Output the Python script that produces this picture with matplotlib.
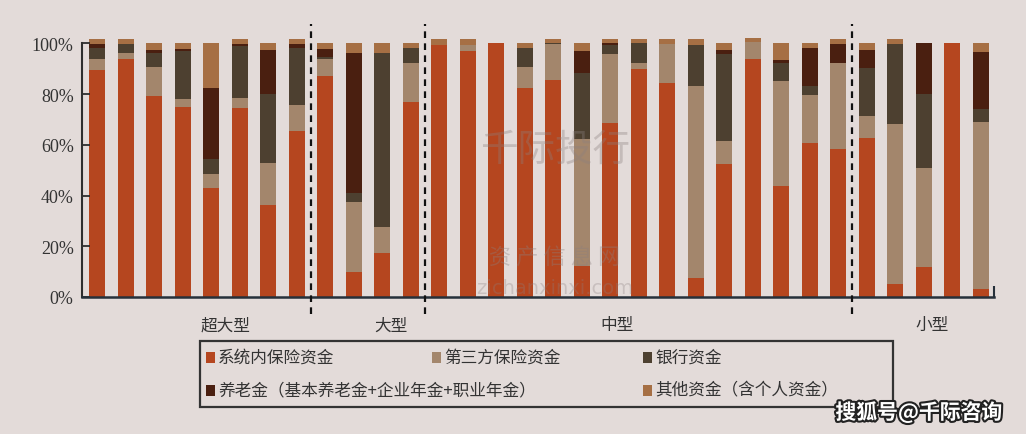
import matplotlib
matplotlib.use("Agg")
import matplotlib.pyplot as plt
import matplotlib.patheffects as pe
from matplotlib.patches import Rectangle
import numpy as np

# ---------------- data ----------------
groups = ["超大型", "大型", "中型", "小型"]
group_sizes = [8, 4, 15, 5]

series_names = ["系统内保险资金", "第三方保险资金", "银行资金",
                "养老金（基本养老金+企业年金+职业年金）", "其他资金（含个人资金）"]

in_system = [89.5, 94.0, 79.2, 74.8, 43.1, 74.5, 36.3, 65.4,
             87.1, 9.9, 17.5, 77.0,
             99.3, 97.0, 100.0, 82.5, 85.5, 12.1, 68.7, 89.7, 84.5, 7.6, 52.6, 94.0, 43.8, 60.8, 58.2,
             62.8, 5.0, 11.8, 100.0, 3.0]
third_party = [4.2, 2.1, 11.6, 3.4, 5.5, 3.8, 16.4, 10.2,
               6.6, 27.6, 10.1, 15.4,
               0.0, 2.2, 0.0, 8.2, 14.1, 50.1, 27.0, 2.7, 15.1, 75.6, 8.9, 6.5, 41.3, 18.7, 34.2,
               8.6, 63.1, 38.9, 0.0, 66.1]
bank = [4.6, 3.5, 5.5, 18.8, 5.9, 20.6, 27.2, 22.4,
        0.7, 3.6, 68.5, 5.9,
        0.0, 0.0, 0.0, 7.6, 0.5, 26.2, 3.5, 7.6, 0.0, 16.0, 34.2, 0.0, 7.3, 3.7, 0.0,
        18.7, 31.5, 29.2, 0.0, 5.1]
pension = [1.3, 0.0, 1.1, 0.9, 28.0, 0.7, 17.5, 1.6,
           3.2, 55.2, 0.0, 0.0,
           0.0, 0.0, 0.0, 0.0, 0.0, 8.6, 0.8, 0.0, 0.0, 0.0, 1.7, 0.0, 1.0, 15.1, 7.2,
           7.1, 0.0, 20.4, 0.0, 22.4]
other = [2.0, 2.0, 2.9, 2.4, 17.8, 2.0, 2.9, 2.0,
         2.6, 4.0, 4.2, 2.0,
         2.3, 2.4, 0.0, 2.0, 1.5, 3.3, 1.6, 1.6, 2.0, 2.4, 2.9, 1.5, 6.9, 2.0, 2.0,
         3.1, 2.0, 0.0, 0.0, 3.7]

y_ticks = [0, 20, 40, 60, 80, 100]
y_tick_labels = ["0%", "20%", "40%", "60%", "80%", "100%"]

# ---------------- style ----------------
colors = ["#B5461F", "#A3866C", "#4D4030", "#4A1F10", "#A66F44"]
bg = "#E3DBD9"
cjk = ["Noto Sans CJK SC", "DejaVu Sans"]

fig = plt.figure(figsize=(10.26, 4.35), dpi=100, facecolor=bg)
ax = fig.add_axes([82 / 1026, 137 / 435, 912 / 1026, 266.4 / 435])
ax.set_facecolor(bg)

all_series = [in_system, third_party, bank, pension, other]
n = len(in_system)
x = np.arange(n)
bottom = np.zeros(n)
for vals, col, name in zip(all_series, colors, series_names):
    v = np.array(vals)
    ax.bar(x, v, width=0.56, bottom=bottom, color=col, label=name, linewidth=0)
    bottom += v

xmin, xmax = -0.53, n - 0.53
ax.set_xlim(xmin, xmax)
ax.set_ylim(0, 105)

# spines
for s in ["top", "right"]:
    ax.spines[s].set_visible(False)
ax.spines["left"].set_bounds(0, 100)
ax.spines["left"].set_color("#2E2E2E")
ax.spines["left"].set_linewidth(1.5)
ax.spines["bottom"].set_color("#26303A")
ax.spines["bottom"].set_linewidth(1.8)

ax.set_yticks(y_ticks)
ax.set_yticklabels(y_tick_labels, family="Liberation Serif", fontsize=13, color="#333333")
ax.tick_params(axis="y", direction="in", length=6, width=1.3, color="#2E2E2E", pad=6)
ax.set_xticks([xmax])
ax.set_xticklabels([""])
ax.tick_params(axis="x", direction="in", length=8, width=1.5, color="#26303A")

# group separators and labels
bounds = np.cumsum(group_sizes)
trans = matplotlib.transforms.blended_transform_factory(ax.transData, ax.transAxes)
for b in bounds[:-1]:
    ax.plot([b - 0.5, b - 0.5], [-0.064, 1.025], transform=trans, color="#111111",
            lw=1.6, ls=(0, (3, 2.4)), clip_on=False, zorder=5)

label_offsets = [1.0, 0.8, -0.75, 0.3]
starts = np.concatenate([[0], bounds[:-1]])
for g, s, size, off in zip(groups, starts, group_sizes, label_offsets):
    cx = s + (size - 1) / 2 + off
    ax.text(cx, -0.105, g, transform=trans, ha="center", va="center",
            family=cjk, fontsize=12, color="#333333")

# manual legend
lx0, lx1 = 200 / 1026, 893 / 1026
ly0, ly1 = (435 - 408) / 435, (435 - 342) / 435
fig.add_artist(Rectangle((lx0, ly0), lx1 - lx0, ly1 - ly0, transform=fig.transFigure,
                         fill=False, edgecolor="#333333", lw=1.6))
col_x = [206, 432, 643]
row_y = [358, 391]
positions = [(0, 0), (1, 0), (2, 0), (0, 1), (2, 1)]
for (ci, ri), name, col in zip(positions, series_names, colors):
    px = col_x[ci] / 1026
    py = (435 - row_y[ri]) / 435
    fig.add_artist(Rectangle((px, py - 5.5 / 435), 9 / 1026, 11 / 435,
                             transform=fig.transFigure, color=col, lw=0))
    fig.text(px + 12 / 1026, py, name, ha="left", va="center",
             family=cjk, fontsize=12, color="#333333")

# watermarks
fig.text(555 / 1026, (435 - 150) / 435, "千际投行", ha="center", va="center",
         family=cjk, fontsize=27, color="#8C8080", alpha=0.35)
fig.text(555 / 1026, (435 - 257) / 435, "资 产 信 息 网", ha="center", va="center",
         family=cjk, fontsize=16, color="#8C8080", alpha=0.35)
fig.text(555 / 1026, (435 - 289) / 435, "zichanxinxi.com", ha="center", va="center",
         family="DejaVu Sans", fontsize=14, color="#8C8080", alpha=0.3)
fig.text(919 / 1026, (435 - 413) / 435, "搜狐号@千际咨询", ha="center", va="center",
         family=cjk, fontsize=15, fontweight="bold", color="white",
         path_effects=[pe.withStroke(linewidth=3, foreground="#222222")])

fig.savefig("out.png", dpi=100, facecolor=bg)
